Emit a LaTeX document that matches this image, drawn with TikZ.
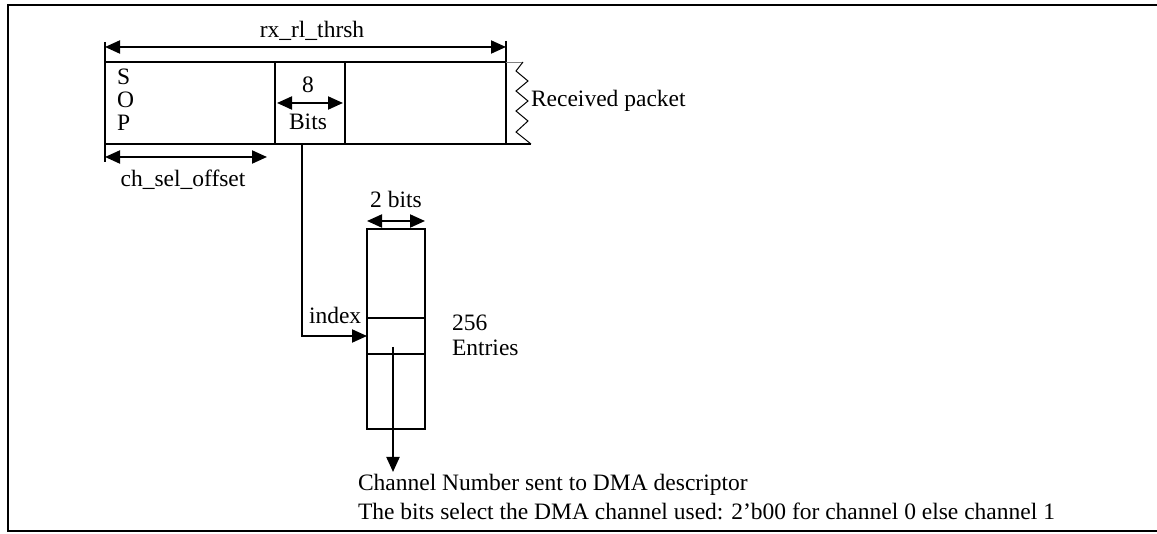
\documentclass[tikz,border=0pt]{standalone}
\usepackage{fontspec}
\setmainfont{Liberation Serif}
\usetikzlibrary{arrows.meta}
\begin{document}
\begin{tikzpicture}[x=1pt,y=-1pt,line width=2pt,
  lbl/.style={inner sep=0pt,font=\fontsize{23.5}{28}\selectfont},
  tip/.tip={Triangle[length=15pt,width=13pt]},
  dimarrow/.style={tip-tip},
  onearrow/.style={-tip},
  thin line/.style={line width=1pt}]
\useasboundingbox (0,0) rectangle (1157,534);
% frame
\draw[line width=2.5pt] (1157,5) -- (8,5) -- (8,531.5);
\draw[line width=1.3pt] (8,531) -- (1157,531);
% packet box coordinates
\coordinate (tl) at (105,62);
\coordinate (bl) at (105,144);
\coordinate (d1t) at (275,62);
\coordinate (d1b) at (275,144);
\coordinate (d2t) at (345,62);
\coordinate (d2b) at (345,144);
\coordinate (tr) at (506,62);
\coordinate (br) at (506,144);
\coordinate (brx) at (531,144);
\coordinate (trx) at (523,62);
\coordinate (ltick) at (105,42);
\coordinate (lbot) at (105,162);
\coordinate (rtick) at (506,41);
\draw (tl) -- (tr);
\draw (bl) -- (brx);
\draw (ltick) -- (lbot);
\draw (d1t) -- (d1b);
\draw (d2t) -- (d2b);
\draw (rtick) -- (br);
\draw[line width=0.8pt,gray] (tr) -- (trx);
\draw[thin line] (trx) -- (516,71) -- (528,81) -- (516,91) -- (528,101) -- (516,111) -- (528,121) -- (516,132) -- (brx);
% dimension arrows
\coordinate (rxa) at (105,47);
\coordinate (rxb) at (506,47);
\draw[dimarrow] (rxa) -- (rxb);
\node[lbl,anchor=base] (rxl) at (312,38) {rx\_rl\_thrsh};
\coordinate (cha) at (105,157);
\coordinate (chb) at (267,157);
\draw[dimarrow] (cha) -- (chb);
\node[lbl,anchor=base] (chl) at (183,187) {ch\_sel\_offset};
% SOP
\node[lbl,anchor=base west] (s) at (116,85) {S};
\node[lbl,anchor=base west] (o) at (116,108) {O};
\node[lbl,anchor=base west] (p) at (116,131) {P};
% 8 bits
\coordinate (ba) at (277,103);
\coordinate (bb) at (343,103);
\draw[dimarrow] (ba) -- (bb);
\node[lbl,anchor=base] (eight) at (308,93) {8};
\node[lbl,anchor=base] (bits) at (308,130) {Bits};
% received packet
\node[lbl,anchor=base west] (recv) at (530,107) {Received packet};
% table
\coordinate (ttl) at (367,229);
\coordinate (tbr) at (425,429);
\draw (ttl) rectangle (tbr);
\coordinate (r1l) at (367,318);
\coordinate (r1r) at (425,318);
\coordinate (r2l) at (367,354);
\coordinate (r2r) at (425,354);
\draw (r1l) -- (r1r);
\draw (r2l) -- (r2r);
\coordinate (twa) at (367,221);
\coordinate (twb) at (425,221);
\draw[dimarrow] (twa) -- (twb);
\node[lbl,anchor=base] (twobits) at (396,208) {2 bits};
% index connector
\coordinate (idxs) at (302,144);
\coordinate (idxc) at (302,336);
\coordinate (idxe) at (367,336);
\draw[onearrow] (idxs) -- (idxc) -- (idxe);
\node[lbl,anchor=base west] (index) at (308,324) {index};
\node[lbl,anchor=base west] (n256) at (451,331) {256};
\node[lbl,anchor=base west] (entries) at (451,356) {Entries};
% output arrow
\coordinate (outs) at (393,347);
\coordinate (oute) at (393,472);
\draw[onearrow] (outs) -- (oute);
\node[lbl,anchor=base west] (ch1) at (357,490) {Channel Number sent to DMA descriptor};
\node[lbl,anchor=base west] (ch2) at (357,519) {The bits select the DMA channel used: 2’b00 for channel 0 else channel 1};
\end{tikzpicture}
\end{document}
